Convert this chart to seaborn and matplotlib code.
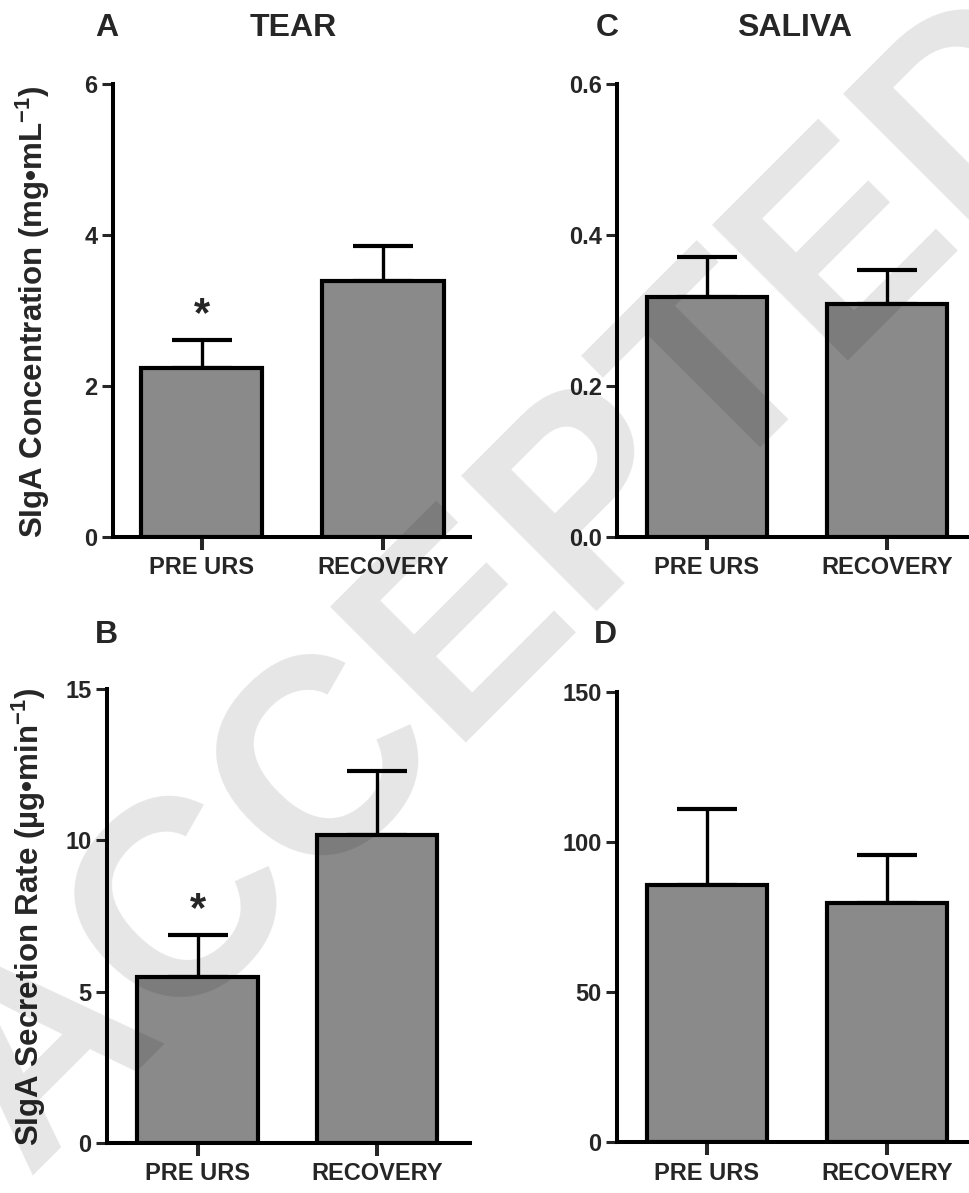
import matplotlib
matplotlib.use("Agg")
import matplotlib.pyplot as plt
import seaborn as sns
import pandas as pd
import numpy as np

sns.set_style("white")
plt.rcParams['font.family'] = ['Liberation Sans', 'DejaVu Sans']
plt.rcParams['font.weight'] = 'bold'
plt.rcParams['mathtext.fontset'] = 'custom'
plt.rcParams['mathtext.rm'] = 'Liberation Sans:bold'
plt.rcParams['mathtext.bf'] = 'Liberation Sans:bold'

categories = ["PRE URS", "RECOVERY"]

tear_conc = [2.24, 3.39]
tear_conc_sem = [0.37, 0.46]
saliva_conc = [0.318, 0.309]
saliva_conc_sem = [0.053, 0.045]
tear_rate = [5.48, 10.17]
tear_rate_sem = [1.39, 2.12]
saliva_rate = [85.7, 79.7]
saliva_rate_sem = [25.3, 16.0]

fig = plt.figure(figsize=(9.69, 11.93), dpi=100)

panels = [
    (tear_conc, tear_conc_sem, [0.1166, 0.5499, 0.3684, 0.3797], 6, [0, 2, 4, 6], ["0", "2", "4", "6"], True),
    (saliva_conc, saliva_conc_sem, [0.6367, 0.5499, 0.3633, 0.3797], 0.6, [0, 0.2, 0.4, 0.6], ["0.0", "0.2", "0.4", "0.6"], False),
    (tear_rate, tear_rate_sem, [0.1104, 0.0419, 0.3746, 0.3806], 15, [0, 5, 10, 15], ["0", "5", "10", "15"], True),
    (saliva_rate, saliva_rate_sem, [0.6367, 0.0427, 0.3633, 0.3772], 150, [0, 50, 100, 150], ["0", "50", "100", "150"], False),
]
xlims = [(-0.49, 1.48), (-0.5, 1.455), (-0.505, 1.52), (-0.5, 1.455)]

for (vals, sem, rect, ymax, ticks, tlabels, star), xl in zip(panels, xlims):
    ax = fig.add_axes(rect)
    ax.set_facecolor('none')
    df = pd.DataFrame({"cond": categories, "val": vals})
    sns.barplot(data=df, x="cond", y="val", ax=ax, color="#8a8a8a", saturation=1,
                width=0.67, edgecolor="black", linewidth=3.0, errorbar=None, zorder=3)
    ax.errorbar([0, 1], vals, yerr=[[0, 0], sem], fmt="none", ecolor="black",
                elinewidth=2.4, capsize=21.5, capthick=3.0, zorder=2)
    if star:
        ax.text(0, vals[0] + sem[0] + ymax * 0.055, "*", ha="center", va="center",
                fontsize=30, fontweight="bold")
    ax.set_xlim(*xl)
    ax.set_ylim(0, ymax)
    ax.set_yticks(ticks)
    ax.set_yticklabels(tlabels)
    ax.set_xlabel("")
    ax.set_ylabel("")
    for s in ["top", "right"]:
        ax.spines[s].set_visible(False)
    for s in ["left", "bottom"]:
        ax.spines[s].set_linewidth(2.9)
        ax.spines[s].set_color("black")
    ax.tick_params(axis="y", direction="out", length=8, width=2.2, labelsize=17, pad=3, left=True)
    ax.tick_params(axis="x", direction="out", length=9, width=2.9, labelsize=17, pad=5, bottom=True)
    for lab in ax.get_xticklabels() + ax.get_yticklabels():
        lab.set_fontweight("bold")

# Panel letters and titles
fig.text(107/969, 1 - 28/1193, "A", fontsize=23, fontweight="bold", ha="center", va="center")
fig.text(293/969, 1 - 28/1193, "TEAR", fontsize=23, fontweight="bold", ha="center", va="center")
fig.text(607/969, 1 - 28/1193, "C", fontsize=23, fontweight="bold", ha="center", va="center")
fig.text(795/969, 1 - 28/1193, "SALIVA", fontsize=23, fontweight="bold", ha="center", va="center")
fig.text(106/969, 1 - 635/1193, "B", fontsize=23, fontweight="bold", ha="center", va="center")
fig.text(605/969, 1 - 635/1193, "D", fontsize=23, fontweight="bold", ha="center", va="center")

# Y labels
fig.text(33/969, 1 - 312/1193, r"SIgA Concentration (mg•mL$^{\mathbf{-1}}$)", rotation=90,
         fontsize=22.5, fontweight="bold", ha="center", va="center")
fig.text(29/969, 1 - 917/1193, r"SIgA Secretion Rate (µg•min$^{\mathbf{-1}}$)", rotation=90,
         fontsize=22.5, fontweight="bold", ha="center", va="center")

# Watermark
fig.text(515/969, 1 - 585/1193, "ACCEPTED", rotation=45, fontsize=200, fontweight="bold",
         color="black", alpha=0.1, ha="center", va="center", zorder=10)

fig.savefig("out.png", dpi=100)
